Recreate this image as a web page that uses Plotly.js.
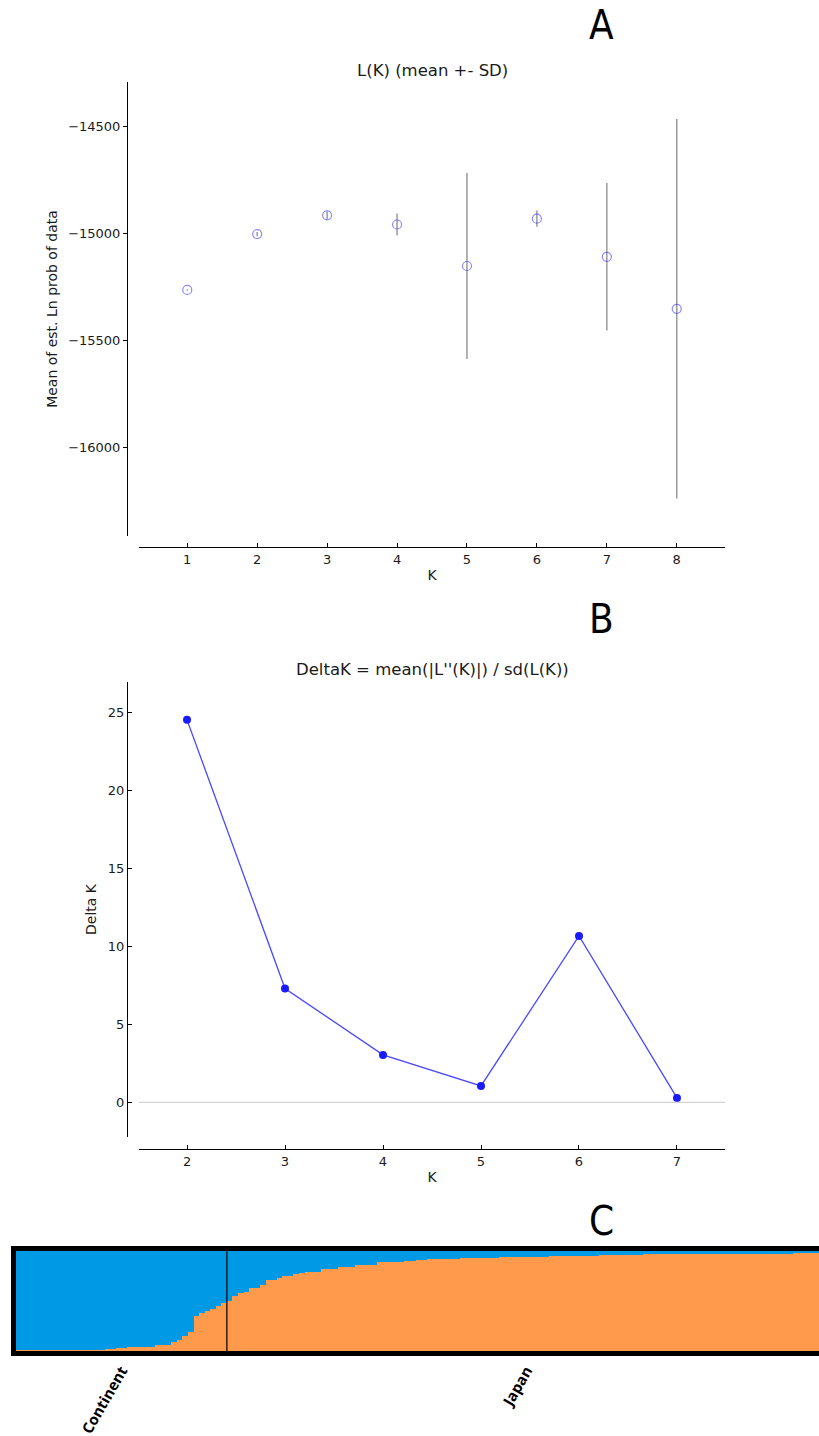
<!DOCTYPE html>
<html>
<head>
<meta charset="utf-8">
<script src="https://cdn.plot.ly/plotly-3.0.1.min.js"></script>
<style>html,body{margin:0;padding:0;background:#fff;}#chart{width:819px;height:1436px;}</style>
</head>
<body>
<div id="chart"></div>
<script>
// ---- Panel A: L(K) mean +- SD ----
const K_L = [1, 2, 3, 4, 5, 6, 7, 8];
const meanLnP = [-15266, -15005, -14917, -14960, -15154, -14933, -15111, -15354];
const sdLnP = [3, 10, 18, 51, 435, 38, 345, 887];
const yTickValsA = [-16000, -15500, -15000, -14500];
const yTickTextA = ['\u221216000', '\u221215500', '\u221215000', '\u221214500'];

// ---- Panel B: Delta K ----
const K_delta = [2, 3, 4, 5, 6, 7];
const deltaK = [24.54, 7.3, 3.04, 1.05, 10.67, 0.28];
const yTickValsB = [0, 5, 10, 15, 20, 25];

// ---- Panel C: STRUCTURE membership (orange cluster, %) ----
const groupLabels = ['Continent', 'Japan'];
const continentOrange = [
  0.8, 0.8, 0.8, 0.8, 0.8, 1.0, 1.0, 1.0, 1.0, 1.4,
  1.4, 1.4, 1.4, 1.4, 1.4, 1.4, 2, 2, 3, 3,
  4, 4, 4, 4, 4, 6.5, 6.5, 6.5, 9.3, 11.3,
  15, 18.7, 35, 38, 40, 42, 45, 48
];
const japanOrange = [
  50, 55, 58, 59, 63, 63, 66, 71, 71, 73,
  75, 75, 77, 78, 79, 79, 79, 82, 82, 82,
  84, 84, 84, 86, 86, 86, 86, 89, 89, 89,
  89, 89, 90, 90, 91.5, 91.5, 92, 92, 92, 92.5,
  92.5, 92.5, 93, 93, 93, 93, 93.5, 93.5, 93.5, 94,
  94, 94, 94, 94.3, 94.3, 94.5, 94.5, 94.5, 94.8, 94.8,
  95, 95, 95.2, 95.2, 95.5, 95.5, 95.5, 95.7, 95.7, 95.8,
  95.8, 96, 96, 96.5, 96.5, 96.7, 96.7, 96.7, 96.7, 96.7,
  96.7, 96.7, 96.7, 96.7, 96.7, 97, 97, 97, 97, 97,
  97, 97, 97, 97, 97, 97, 97, 97, 97, 97,
  97, 97, 98.3, 98.3, 98.3, 98.3, 98.3, 98.3
];

const orangeQ = continentOrange.concat(japanOrange);
const blueQ = orangeQ.map(v => 100 - v);
const idx = orangeQ.map((_, i) => i);
const nC = continentOrange.length, nJ = japanOrange.length;
const groupCenters = [(nC - 1) / 2, nC + (nJ - 1) / 2];

const H = 1436, W = 819;
const px = v => v / W;
const py = v => (H - v) / H;

const BLUE = '#0099E5', ORANGE = '#FF9A4C';

const traces = [
  {
    type: 'scatter', mode: 'markers', x: K_L, y: meanLnP, xaxis: 'x', yaxis: 'y',
    marker: {symbol: 'circle-open', size: 9, color: 'rgba(60,60,255,0.6)', line: {width: 1.2}},
    error_y: {type: 'data', array: sdLnP, visible: true, color: '#9a9a9a', thickness: 1.5, width: 0},
    hoverinfo: 'x+y'
  },
  {
    type: 'scatter', mode: 'lines+markers', x: K_delta, y: deltaK, xaxis: 'x2', yaxis: 'y2',
    line: {color: 'rgba(40,40,255,0.85)', width: 1.3},
    marker: {size: 8, color: '#1a1aff'}
  },
  {
    type: 'bar', x: idx, y: orangeQ, xaxis: 'x3', yaxis: 'y3',
    marker: {color: ORANGE, line: {width: 0}}, name: 'cluster 2'
  },
  {
    type: 'bar', x: idx, y: blueQ, xaxis: 'x3', yaxis: 'y3',
    marker: {color: BLUE, line: {width: 0}}, name: 'cluster 1'
  }
];

const axFont = {family: 'DejaVu Sans, sans-serif', size: 13, color: '#1a1a1a'};
const titleFont = {family: 'DejaVu Sans, sans-serif', size: 14, color: '#1a1a1a'};
const letterFont = {family: 'Liberation Sans Narrow, DejaVu Sans Condensed, sans-serif', size: 40, color: '#000'};
const panelTitleFont = {family: 'DejaVu Sans, sans-serif', size: 16.5, color: '#1a1a1a'};

const layout = {
  width: W, height: H,
  margin: {l: 0, r: 0, t: 0, b: 0},
  paper_bgcolor: '#fff', plot_bgcolor: '#fff',
  showlegend: false,
  barmode: 'stack', bargap: 0,
  font: {family: 'DejaVu Sans, sans-serif', size: 13, color: '#1a1a1a'},
  xaxis: {
    domain: [px(139), px(725)], anchor: 'free', position: py(547),
    range: [0.31, 8.69], tickvals: K_L, ticks: 'inside', ticklen: 4, tickcolor: '#000',
    showline: true, linecolor: '#000', linewidth: 1, showgrid: false, zeroline: false,
    tickfont: axFont, automargin: false,
    title: {text: 'K', font: titleFont, standoff: 4}
  },
  yaxis: {
    domain: [py(536), py(82)], anchor: 'free', position: px(127),
    range: [-16416, -14294], tickvals: yTickValsA, ticktext: yTickTextA,
    ticks: 'outside', ticklen: 4, tickcolor: '#000',
    showline: true, linecolor: '#000', linewidth: 1, showgrid: false, zeroline: false,
    tickfont: axFont, automargin: false,
    title: {text: 'Mean of est. Ln prob of data', font: titleFont, standoff: 6}
  },
  xaxis2: {
    domain: [px(139), px(725)], anchor: 'free', position: py(1149),
    range: [1.51, 7.49], tickvals: K_delta, ticks: 'inside', ticklen: 4, tickcolor: '#000',
    showline: true, linecolor: '#000', linewidth: 1, showgrid: false, zeroline: false,
    tickfont: axFont, automargin: false,
    title: {text: 'K', font: titleFont, standoff: 4}
  },
  yaxis2: {
    domain: [py(1137), py(682)], anchor: 'free', position: px(127),
    range: [-2.23, 26.97], tickvals: yTickValsB,
    ticks: 'inside', ticklen: 4, tickcolor: '#000',
    showline: true, linecolor: '#000', linewidth: 1, showgrid: false, zeroline: false,
    tickfont: axFont, automargin: false,
    title: {text: 'Delta K', font: titleFont, standoff: 6}
  },
  xaxis3: {
    domain: [px(16), 1], anchor: 'y3', range: [-0.5, 144.2],
    tickvals: groupCenters, ticktext: groupLabels, tickangle: -60, ticks: '',
    tickfont: {family: 'Open Sans, sans-serif', size: 15, color: '#000', weight: 700},
    showline: true, mirror: true, linecolor: '#000', linewidth: 5,
    showgrid: false, zeroline: false, automargin: false
  },
  yaxis3: {
    domain: [py(1351), py(1251)], anchor: 'x3', range: [0, 100],
    showticklabels: false, ticks: '', showline: true, linecolor: '#000', linewidth: 5,
    showgrid: false, zeroline: false, automargin: false
  },
  shapes: [
    {type: 'line', xref: 'x2 domain', x0: 0, x1: 1, yref: 'y2', y0: 0, y1: 0,
     line: {color: '#c8c8c8', width: 1}},
    {type: 'line', xref: 'x3', x0: nC - 0.5, x1: nC - 0.5, yref: 'y3 domain', y0: 0, y1: 1,
     line: {color: '#000', width: 1.2}}
  ],
  annotations: [
    {text: 'A', xref: 'paper', yref: 'paper', x: px(601), y: py(25), xanchor: 'center', yanchor: 'middle',
     showarrow: false, font: letterFont},
    {text: 'B', xref: 'paper', yref: 'paper', x: px(601), y: py(619), xanchor: 'center', yanchor: 'middle',
     showarrow: false, font: letterFont},
    {text: 'C', xref: 'paper', yref: 'paper', x: px(601), y: py(1221), xanchor: 'center', yanchor: 'middle',
     showarrow: false, font: letterFont},
    {text: 'L(K) (mean +- SD)', xref: 'paper', yref: 'paper', x: px(432), y: py(70),
     xanchor: 'center', yanchor: 'middle', showarrow: false, font: panelTitleFont},
    {text: "DeltaK = mean(|L''(K)|) / sd(L(K))", xref: 'paper', yref: 'paper', x: px(432), y: py(670),
     xanchor: 'center', yanchor: 'middle', showarrow: false, font: panelTitleFont}
  ]
};

Plotly.newPlot('chart', traces, layout, {staticPlot: true, displayModeBar: false});
</script>
</body>
</html>
